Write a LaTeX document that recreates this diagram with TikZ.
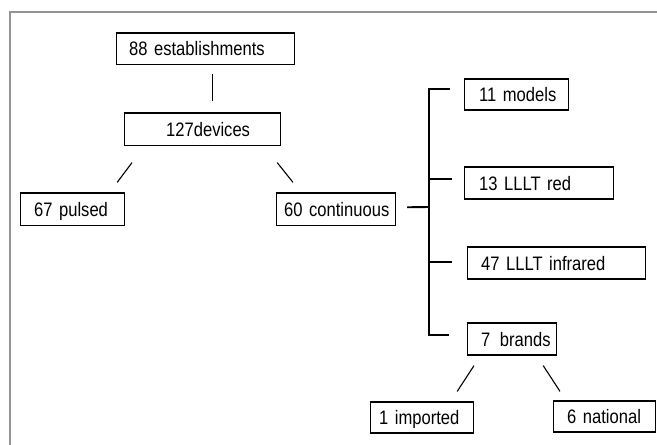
\documentclass[tikz,border=0pt]{standalone}
\usepackage{fontspec}
\setmainfont{Liberation Sans}[FakeStretch=0.85]
\begin{document}
\begin{tikzpicture}[x=1pt,y=-1pt,
  box/.style={draw=black,line width=1.2pt,anchor=west,align=left,
    font=\fontsize{19.5}{22}\selectfont,text height=14pt,text depth=0pt,inner ysep=0pt},
  link/.style={line width=1.1pt,draw=black},
  br/.style={line width=1.9pt,draw=black},
  frame/.style={draw=black!42,line width=1.8pt}]
\useasboundingbox (0,0) rectangle (657,445);
\draw[frame] (10,445) -- (10,12) -- (657,12);
% boxes: left x, center y, width, height, pad
\newcommand{\mybox}[7]{%
  \node[box,minimum width=#3,minimum height=#4,inner xsep=#5,text width=#3-2*#5-1.2pt] (#6) at (#1,#2) {\mbox{#7}};}
\mybox{116}{48.75}{178}{31.5}{12pt}{est}{88 establishments}
\mybox{124}{129.25}{156}{32.5}{41pt}{dev}{127devices}
\mybox{20}{209.25}{104}{32.5}{13pt}{pul}{67 pulsed}
\mybox{276}{209.25}{119}{32.5}{7pt}{con}{60 continuous}
\mybox{464}{94.5}{104}{31}{14pt}{mod}{11 models}
\mybox{464}{183}{149}{32}{14pt}{red}{13 LLLT red}
\mybox{467}{263}{178}{32}{13pt}{inf}{47 LLLT infrared}
\mybox{467}{339}{89}{32}{13pt}{bra}{7 \kern3pt brands}
\mybox{370}{417.5}{103}{31}{8pt}{imp}{1 imported}
\mybox{553}{416.5}{102}{31}{13pt}{nat}{6 national}
% connectors
\draw[link] ([xshift=7pt,yshift=-8.5pt]est.south) -- ([xshift=10pt,yshift=11.5pt]dev.north);
\draw[link] ([xshift=8pt,yshift=-16.5pt]dev.south west) -- ([xshift=-8pt,yshift=10pt]pul.north east);
\draw[link] ([xshift=-4pt,yshift=-16.5pt]dev.south east) -- ([xshift=17pt,yshift=10pt]con.north west);
\coordinate (jt) at (429,89);
\coordinate (jb) at (429,335);
\coordinate (jc) at (429,207);
\coordinate (jr) at (429,179);
\coordinate (ji) at (429,262);
\draw[br] ([xshift=-14pt,yshift=5.5pt]mod.west) -- (jt) -- (jb) -- ([xshift=-18pt,yshift=4pt]bra.west);
\draw[br] ([xshift=11pt,yshift=2pt]con.east) -- (jc);
\draw[br] ([xshift=-12pt,yshift=4pt]red.west) -- (jr);
\draw[br] ([xshift=-15pt,yshift=1pt]inf.west) -- (ji);
\draw[link] ([xshift=7pt,yshift=-10pt]bra.south west) -- ([xshift=-17pt,yshift=10pt]imp.north east);
\draw[link] ([xshift=-14pt,yshift=-10pt]bra.south east) -- ([xshift=7pt,yshift=9pt]nat.north west);
\end{tikzpicture}
\end{document}
